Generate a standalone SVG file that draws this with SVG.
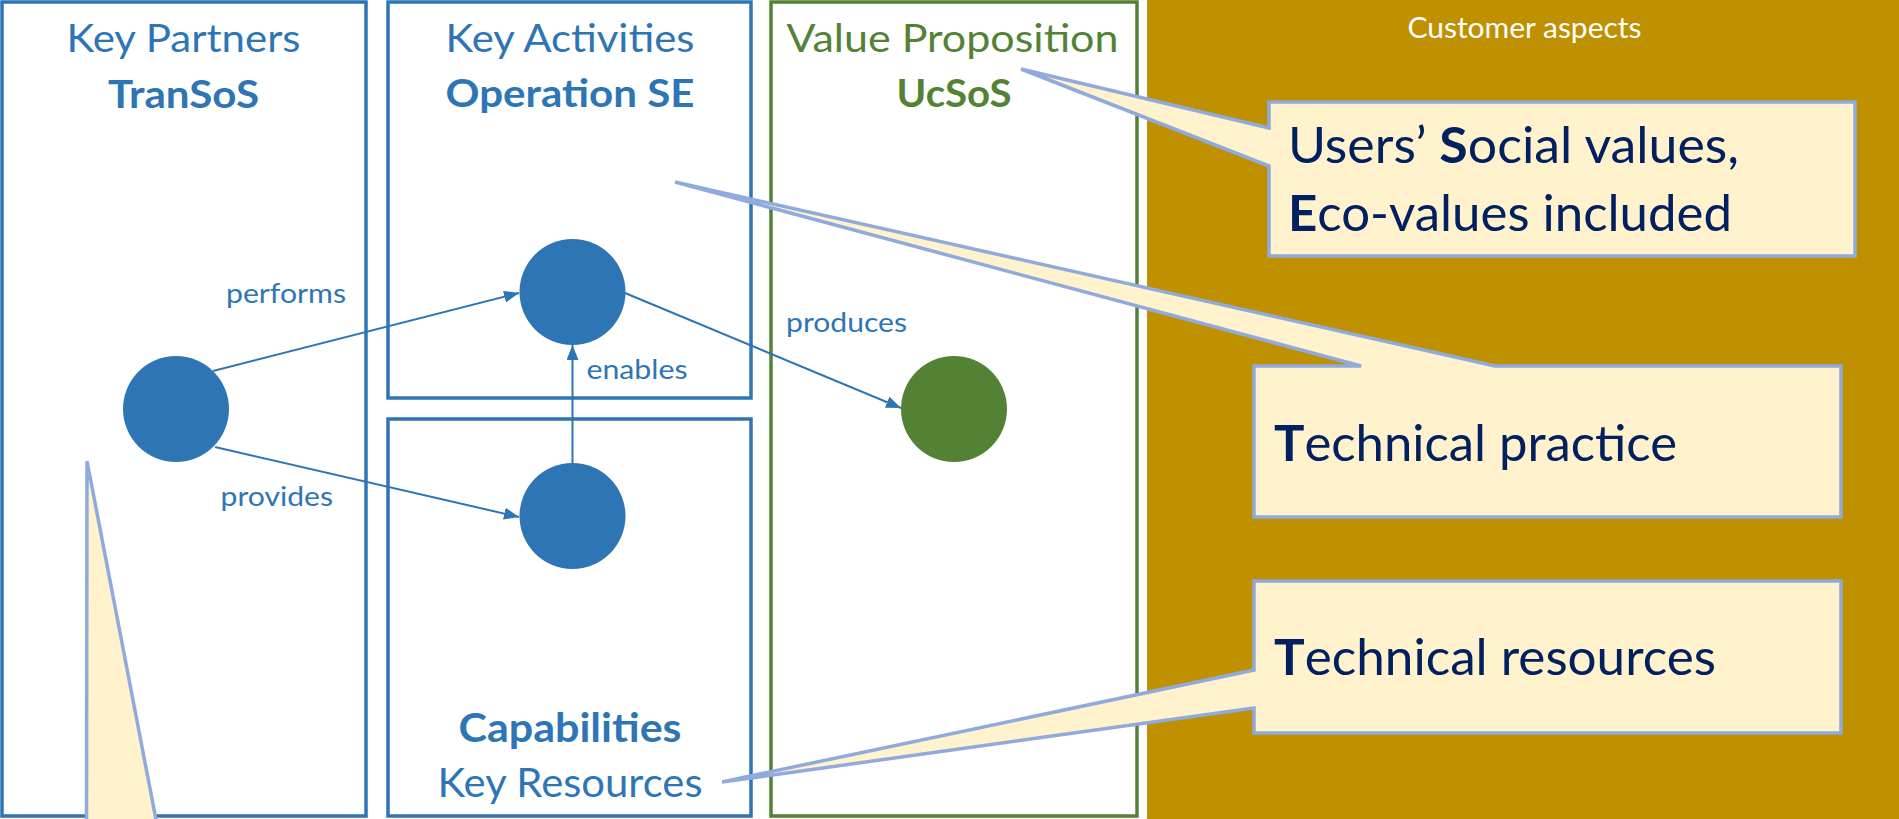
<svg xmlns="http://www.w3.org/2000/svg" width="1899" height="819" viewBox="0 0 1899 819">
<style>
.box{fill:#FFFFFF;stroke:#2E75B6;stroke-width:3.5}
.gbox{fill:#FFFFFF;stroke:#548235;stroke-width:3.5}
.t{font-family:Lato,"Liberation Sans",sans-serif}
.hb{fill:#2E75B6;font-size:39px}
.hg{fill:#548235;font-size:39px}
.b{font-weight:bold}
.lbl{fill:#2E75B6;font-size:26px}
.co{fill:#FFF2CC;stroke:#8FAADC;stroke-width:3.5;stroke-linejoin:miter}
.ct{fill:#002060;font-size:50px}
.conn{stroke:#2E75B6;stroke-width:2;fill:none}
</style>
<defs>
<marker id="arr" markerUnits="userSpaceOnUse" markerWidth="16" markerHeight="12" refX="15" refY="6" orient="auto">
<path d="M0,0 L15,6 L0,12 Z" fill="#2E75B6"/>
</marker>
</defs>
<rect x="0" y="0" width="1899" height="819" fill="#FFFFFF"/>
<g id="customer-aspects">
<rect x="1147" y="0" width="752" height="819" fill="#BF9000"/>
<text class="t" x="1524.5" y="38" font-size="28" fill="#FFFFFF" text-anchor="middle" textLength="234" lengthAdjust="spacingAndGlyphs">Customer aspects</text>
</g>
<g id="key-partners">
<rect class="box" x="2" y="2" width="364" height="814"/>
<text class="t hb" x="183.5" y="52" text-anchor="middle" textLength="234" lengthAdjust="spacingAndGlyphs">Key Partners</text>
<text class="t hb b" x="183.5" y="108" text-anchor="middle" textLength="151" lengthAdjust="spacingAndGlyphs">TranSoS</text>
</g>
<g id="key-activities">
<rect class="box" x="388" y="2" width="363" height="396"/>
<text class="t hb" x="570" y="52" text-anchor="middle" textLength="249" lengthAdjust="spacingAndGlyphs">Key Activities</text>
<text class="t hb b" x="570" y="107" text-anchor="middle" textLength="249" lengthAdjust="spacingAndGlyphs">Operation SE</text>
</g>
<g id="key-resources">
<rect class="box" x="388" y="419" width="363" height="397"/>
<text class="t b" x="570" y="742" font-size="41" fill="#2E75B6" text-anchor="middle" textLength="223" lengthAdjust="spacingAndGlyphs">Capabilities</text>
<text class="t" x="570" y="797" font-size="41" fill="#2E75B6" text-anchor="middle" textLength="265" lengthAdjust="spacingAndGlyphs">Key Resources</text>
</g>
<g id="value-proposition">
<rect class="gbox" x="771" y="2" width="366" height="814"/>
<text class="t hg" x="952.5" y="52" text-anchor="middle" textLength="332" lengthAdjust="spacingAndGlyphs">Value Proposition</text>
<text class="t hg b" x="954" y="107" text-anchor="middle" textLength="115" lengthAdjust="spacingAndGlyphs">UcSoS</text>
</g>
<g id="node-partner"><circle cx="176" cy="409" r="53" fill="#2E75B6"/></g>
<g id="node-activity"><circle cx="572.5" cy="292" r="53" fill="#2E75B6"/></g>
<g id="node-capability"><circle cx="572.5" cy="516" r="53" fill="#2E75B6"/></g>
<g id="node-value"><circle cx="954" cy="409" r="53" fill="#548235"/></g>
<g id="connectors">
<path class="conn" d="M213,371 L519,293" marker-end="url(#arr)"/>
<path class="conn" d="M215,447 L519,517" marker-end="url(#arr)"/>
<path class="conn" d="M572.5,463 L572.5,345" marker-end="url(#arr)"/>
<path class="conn" d="M625,293 L901,408" marker-end="url(#arr)"/>
<text class="t lbl" x="226" y="303" textLength="120" lengthAdjust="spacingAndGlyphs">performs</text>
<text class="t lbl" x="220.5" y="506" textLength="112.5" lengthAdjust="spacingAndGlyphs">provides</text>
<text class="t lbl" x="586.5" y="379" textLength="101" lengthAdjust="spacingAndGlyphs">enables</text>
<text class="t lbl" x="786" y="332" textLength="121" lengthAdjust="spacingAndGlyphs">produces</text>
</g>
<g id="callout-social">
<path class="co" d="M1269,102 H1855 V256 H1269 V166 L1021,69 L1269,128 Z"/>
<text class="t ct" x="1288" y="163" textLength="451" lengthAdjust="spacingAndGlyphs">Users’ <tspan class="b">S</tspan>ocial values,</text>
<text class="t ct" x="1288" y="231" textLength="444" lengthAdjust="spacingAndGlyphs"><tspan class="b">E</tspan>co-values included</text>
</g>
<g id="callout-practice">
<path class="co" d="M1254,366 H1361 L675,182 L1495,366 H1841 V517 H1254 Z"/>
<text class="t ct" x="1274" y="461" textLength="403" lengthAdjust="spacingAndGlyphs"><tspan class="b">T</tspan>echnical practice</text>
</g>
<g id="callout-resources">
<path class="co" d="M1254,581 H1841 V733 H1254 V708 L722,782 L1254,670 Z"/>
<text class="t ct" x="1274" y="675" textLength="442" lengthAdjust="spacingAndGlyphs"><tspan class="b">T</tspan>echnical resources</text>
</g>
<g id="callout-partners">
<path class="co" d="M87,461 L158,830 L86.5,830 Z"/>
</g>
</svg>
